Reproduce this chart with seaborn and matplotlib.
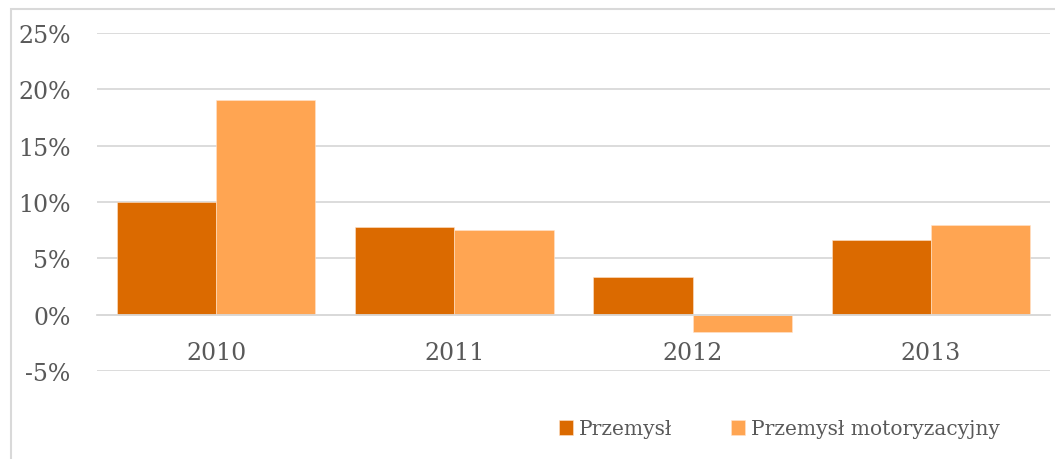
import pandas as pd
import matplotlib
matplotlib.use("Agg")
import matplotlib.pyplot as plt
from matplotlib.patches import Rectangle
from matplotlib.ticker import FuncFormatter
import seaborn as sns

# Values (percent)
lata = ["2010", "2011", "2012", "2013"]
przemysl = [10.0, 7.8, 3.35, 6.65]
przemysl_moto = [19.05, 7.55, -1.55, 8.0]
serie = ["Przemysł", "Przemysł motoryzacyjny"]
kolory = ["#DB6A00", "#FFA552"]

data = pd.DataFrame({
    "rok": lata * 2,
    "wartosc": przemysl + przemysl_moto,
    "seria": [serie[0]] * len(lata) + [serie[1]] * len(lata),
})

sns.set_style("white")
plt.rcParams["font.family"] = ["DejaVu Serif", "DejaVu Sans"]
plt.rcParams["axes.unicode_minus"] = False

W, H = 1055, 460
fig = plt.figure(figsize=(W / 100, H / 100), dpi=100)
ax = fig.add_axes([97 / W, 1 - 372 / H, (1050 - 97) / W, (372 - 34) / H])

sns.barplot(data=data, x="rok", y="wartosc", hue="seria", palette=kolory,
            saturation=1, width=0.833, ax=ax, edgecolor="#FFE3CC", linewidth=0.4)

ax.set_ylim(-5, 25)
ax.set_yticks(range(-5, 26, 5))
ax.yaxis.set_major_formatter(FuncFormatter(lambda v, p: f"{v:.0f}%"))
ax.grid(axis="y", color="#D9D9D9", linewidth=1.3)
ax.set_axisbelow(True)
for s in ["left", "right", "top"]:
    ax.spines[s].set_visible(False)
ax.spines["bottom"].set_position(("data", 0))
ax.spines["bottom"].set_color("#D9D9D9")
ax.spines["bottom"].set_linewidth(1.3)
ax.tick_params(axis="x", length=0, pad=19, labelsize=17, labelcolor="#595959")
ax.tick_params(axis="y", length=0, pad=19, labelsize=17, labelcolor="#595959")
ax.set_xlabel("")
ax.set_ylabel("")

ax.legend(loc="center left", bbox_to_anchor=(541 / W, 1 - 430 / H),
          bbox_transform=fig.transFigure, ncol=2, frameon=False,
          fontsize=14.5, labelcolor="#595959", handlelength=0.7, handleheight=0.7,
          handletextpad=0.3, columnspacing=2.9)

# chart frame
fig.patches.append(Rectangle((11 / W, -0.1), 1.2, 1.1 - 10 / H, transform=fig.transFigure,
                             fill=False, edgecolor="#D9D9D9", linewidth=1.5))

fig.savefig("out.png", dpi=100)
